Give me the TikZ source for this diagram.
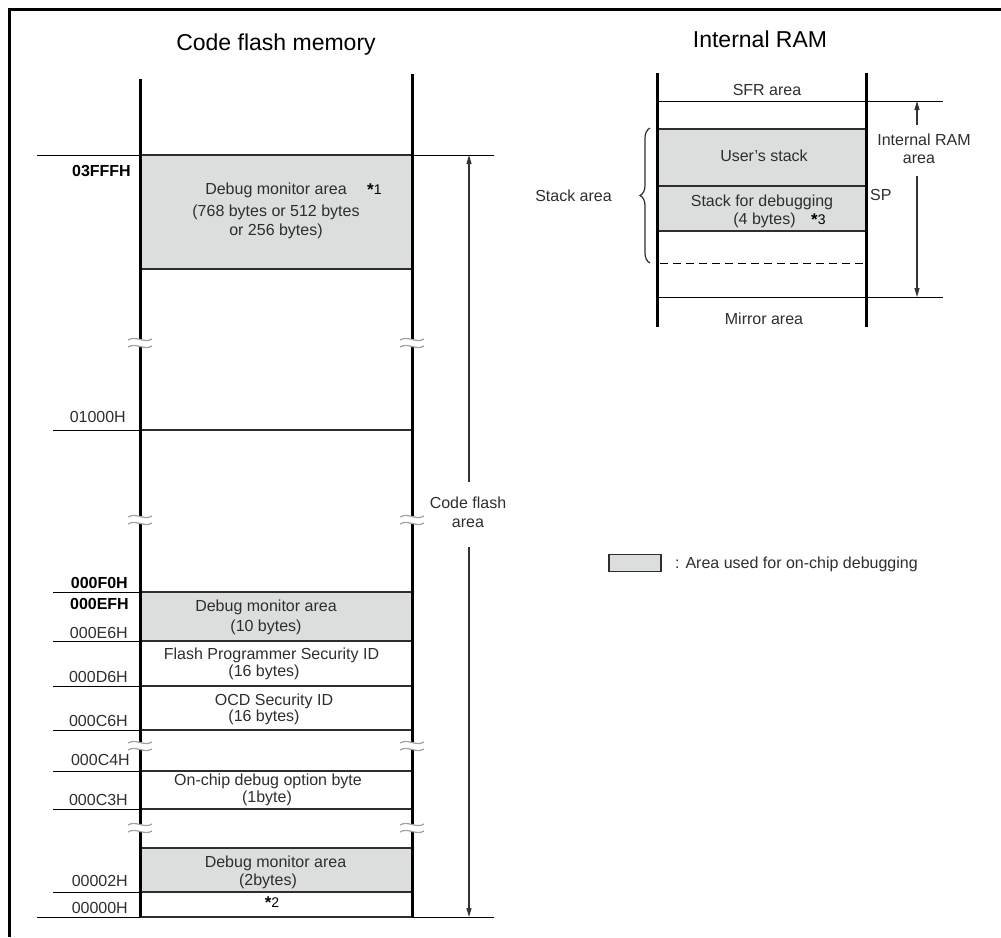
\documentclass[tikz,border=0pt]{standalone}
\usepackage{fontspec}
\setmainfont{Liberation Sans}
\usetikzlibrary{arrows.meta,decorations.pathreplacing}
\definecolor{areagray}{HTML}{DCDDDD}
\definecolor{txt}{HTML}{2E2E2E}
\definecolor{thin}{HTML}{9A9A9A}
\definecolor{brk}{HTML}{A0A0A0}
\newcommand\brkmark[3]{% name, x, y
  \fill[white] (#2-9,#3-4) .. controls (#2-3,#3-8) and (#2+3,#3) .. (#2+9,#3-4)
     -- (#2+9,#3+3) .. controls (#2+3,#3+7) and (#2-3,#3-1) .. (#2-9,#3+3) -- cycle;
  \draw[brk,line width=1.2] (#2-12,#3-3) .. controls (#2-4,#3-8) and (#2+4,#3+1) .. (#2+12,#3-4);
  \draw[brk,line width=1.2] (#2-12,#3+4) .. controls (#2-4,#3-1) and (#2+4,#3+8) .. (#2+12,#3+3);
  \coordinate (#1) at (#2,#3);
}
\newcommand\notestar{\raisebox{-1.5pt}{\bfseries\fontsize{17}{17}\selectfont *}}
\begin{document}
\begin{tikzpicture}[x=1pt,y=-1pt,
  lab/.style={font=\fontsize{16}{18}\selectfont, text=txt, anchor=base, inner sep=0},
  addr/.style={font=\fontsize{16}{18}\selectfont, text=txt, anchor=base east, inner sep=0},
  baddr/.style={font=\bfseries\fontsize{16}{18}\selectfont, text=black, anchor=base east, inner sep=0},
  ttl/.style={font=\fontsize{23}{26}\selectfont, text=black, anchor=base, inner sep=0},
  star/.style={font=\fontsize{14}{16}\selectfont, text=black, anchor=base west, inner sep=0},
  wall/.style={line width=3pt, black},
  divider/.style={line width=2pt, txt},
  ext/.style={line width=1.5pt, thin},
  dim/.style={line width=1.2pt, black!80, -{Triangle[length=9pt,width=5pt]}},
]
\useasboundingbox (0,0) rectangle (1001,937);
% frame
\draw[line width=3pt] (9.5,937) -- (9.5,9) -- (1001,9);

% ---------- Code flash memory ----------
\node[ttl] (t1) at (276,50) {Code flash memory};

% shaded areas
\fill[areagray] (140,155) rectangle (412,269);
\fill[areagray] (140,592) rectangle (412,641);
\fill[areagray] (140,848) rectangle (412,892);

% external thin lines
\draw[ext] (37,155) -- (494,155);
\draw[ext] (37,917) -- (494,917);
\draw[ext] (53,430) -- (140,430);
\draw[ext] (53,592) -- (140,592);
\draw[ext] (53,641) -- (140,641);
\draw[ext] (53,686) -- (140,686);
\draw[ext] (53,730) -- (140,730);
\draw[ext] (53,771) -- (140,771);
\draw[ext] (53,809) -- (140,809);
\draw[ext] (53,892) -- (140,892);

% dividers inside
\foreach \yy in {155,269,430,592,641,686,730,771,809,848,892,917}
  \draw[divider] (140,\yy) -- (412,\yy);

% walls
\draw[wall] (140,79) -- (140,917);
\draw[wall] (412,74) -- (412,917);

% break marks
\brkmark{bl1}{140}{343}
\brkmark{br1}{412}{343}
\brkmark{bl2}{140}{520}
\brkmark{br2}{412}{520}
\brkmark{bl3}{140}{746}
\brkmark{br3}{412}{746}
\brkmark{bl4}{140}{828}
\brkmark{br4}{412}{828}

% texts inside
\node[lab] (d1a) at (276,194) {Debug monitor area};
\node[star] (s1) at (367,194) {\notestar1};
\node[lab] (d1b) at (276,216) {(768 bytes or 512 bytes};
\node[lab] (d1c) at (276,235) {or 256 bytes)};

\node[lab] (d2a) at (266,611) {Debug monitor area};
\node[lab] (d2b) at (266,631) {(10 bytes)};
\node[lab] (fpa) at (271.5,659) {Flash Programmer Security ID};
\node[lab] (fpb) at (264,676) {(16 bytes)};
\node[lab] (oca) at (274,705) {OCD Security ID};
\node[lab] (ocb) at (264,721) {(16 bytes)};
\node[lab] (oba) at (268,785) {On-chip debug option byte};
\node[lab] (obb) at (267,802) {(1byte)};
\node[lab] (d3a) at (275.5,867) {Debug monitor area};
\node[lab] (d3b) at (268,885) {(2bytes)};
\node[star,anchor=base] (s2) at (272,907) {\notestar2};

% addresses
\node[baddr] (a1) at (131,176) {03FFFH};
\node[addr]  (a2) at (126,422) {01000H};
\node[baddr] (a3) at (128,588) {000F0H};
\node[baddr] (a4) at (129,609) {000EFH};
\node[addr]  (a5) at (128,638) {000E6H};
\node[addr]  (a6) at (128,682) {000D6H};
\node[addr]  (a7) at (128,726) {000C6H};
\node[addr]  (a8) at (130,765) {000C4H};
\node[addr]  (a9) at (128,805) {000C3H};
\node[addr]  (a10) at (128,886) {00002H};
\node[addr]  (a11) at (128,913) {00000H};

% code flash area dimension
\coordinate (cft) at (469,155);
\coordinate (cfb) at (469,917);
\node[lab] (cf1) at (468,508) {Code flash};
\node[lab] (cf2) at (468,527) {area};
\draw[dim] (469,482) -- (cft);
\draw[dim] (469,547) -- (cfb);

% ---------- Internal RAM ----------
\node[ttl] (t2) at (760,47) {Internal RAM};
\fill[areagray] (657,129) rectangle (866,231);
\draw[ext] (657,101) -- (943,101);
\draw[ext] (657,297) -- (943,297);
\foreach \yy in {129,186,231}
  \draw[divider] (657,\yy) -- (866,\yy);
\draw[line width=1.5pt, thin, dash pattern=on 8pt off 5pt] (660,263.5) -- (864,263.5);
\draw[wall] (657,73) -- (657,327);
\draw[wall] (866,73) -- (866,327);

\node[lab] (sfr) at (767,95) {SFR area};
\node[lab] (us) at (764,161) {User's stack};
\node[lab] (sd1) at (762,206) {Stack for debugging};
\node[lab] (sd2) at (764.5,224) {(4 bytes)};
\node[star] (s3) at (811,224) {\notestar3};
\node[lab] (mir) at (764,324) {Mirror area};
\node[lab,anchor=base west] (sp) at (870,200) {SP};

\coordinate (rt) at (917,101);
\coordinate (rb) at (917,297);
\node[lab] (ir1) at (924,145) {Internal RAM};
\node[lab] (ir2) at (919,163) {area};
\draw[dim] (917,125) -- (rt);
\draw[dim] (917,176) -- (rb);

\draw[line width=1.2pt, txt, decorate, decoration={brace, amplitude=10pt}]
  (650,263) -- (650,128);
\node[lab] (sa) at (573.5,201) {Stack area};

% legend
\node[draw=txt, line width=1.5pt, fill=areagray, minimum width=52, minimum height=17, inner sep=0] (leg) at (635,563) {};
\node[lab, anchor=base west] (legt) at (675,568) {: Area used for on-chip debugging};
\end{tikzpicture}
\end{document}
